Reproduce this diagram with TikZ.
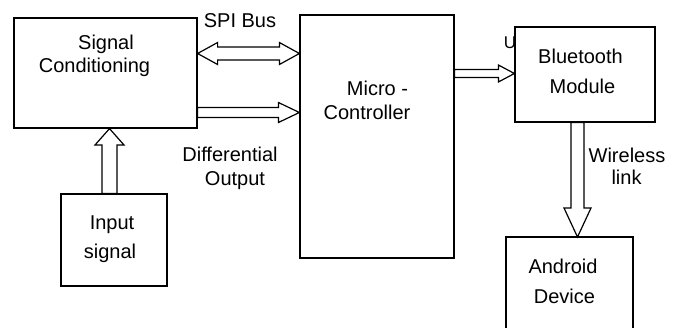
\documentclass[tikz,border=0pt]{standalone}
\usepackage{fontspec}
\setmainfont{Liberation Sans}
\usetikzlibrary{calc}
\begin{document}
\begin{tikzpicture}[x=1pt,y=-1pt,
  box/.style={draw=black,line width=1.2pt,fill=white,inner sep=0pt},
  blockarrow/.style={draw=black,line width=1.2pt,fill=white,line join=miter},
  txt/.style={font=\fontsize{20}{24}\selectfont,anchor=base,inner sep=0pt}]
\useasboundingbox (0,0) rectangle (683,327);
% boxes
\node[box,minimum width=183pt,minimum height=110pt] (sc) at (105.5,73) {};
\node[box,minimum width=154pt,minimum height=243pt] (mc) at (377,136.5) {};
\node[box,minimum width=140pt,minimum height=95pt] (bt) at (585,74.5) {};
\node[box,minimum width=106pt,minimum height=92pt] (in) at (114,240) {};
\coordinate (adtl) at (506,237);
\coordinate (adtr) at (633,237);
\coordinate (adbl) at (506,328);
\coordinate (adbr) at (633,328);
\draw[line width=1.2pt] (adbl) -- (adtl) -- (adtr) -- (adbr);
% SPI double arrow
\draw[blockarrow] (sc.east |- 0,53.5) -- ($(sc.east |- 0,42.5)+(20,0)$) -- ++(0,4.5)
  -- ($(mc.west |- 0,47)+(-20,0)$) -- ++(0,-4.5) -- (mc.west |- 0,53.5)
  -- ($(mc.west |- 0,64.5)+(-20,0)$) -- ++(0,-4.5)
  -- ($(sc.east |- 0,60)+(20,0)$) -- ++(0,4.5) -- cycle;
% Differential output arrow
\draw[blockarrow] (sc.east |- 0,107.5) -- ($(mc.west |- 0,107.5)+(-21,0)$) -- ++(0,-5) -- (mc.west |- 0,112.5) -- ($(mc.west |- 0,122.5)+(-21,0)$) -- ++(0,-5) -- (sc.east |- 0,117.5) -- cycle;
% Input arrow up
\draw[blockarrow] (in.north -| 102,0) -- (102,145) -- (95,145) -- (sc.south -| 109.5,0) -- (124,145) -- (117,145) -- (in.north -| 117,0) -- cycle;
% MCU to Bluetooth
\draw[blockarrow] (mc.east |- 0,69.5) -- ($(bt.west |- 0,69.5)+(-16,0)$) -- ++(0,-4.5) -- (bt.west |- 0,73.5) -- ($(bt.west |- 0,82)+(-16,0)$) -- ++(0,-4.5) -- (mc.east |- 0,77.5) -- cycle;
% Bluetooth to Android
\draw[blockarrow] (bt.south -| 571,0) -- (571,208) -- (564,208) -- (adtl -| 577.5,0) -- (591,208) -- (584,208) -- (bt.south -| 584,0) -- cycle;
% texts
\node[txt] (t1) at (106,49) {Signal};
\node[txt] (t2) at (94.5,72) {Conditioning};
\node[txt] (t3) at (377.5,95) {Micro -};
\node[txt] (t4) at (367,119) {Controller};
\node[txt] (t5) at (580.5,63) {Bluetooth};
\node[txt] (t6) at (582.5,93) {Module};
\node[txt] (t7) at (112,229) {Input};
\node[txt] (t8) at (110,258) {signal};
\node[txt] (t9) at (563,273) {Android};
\node[txt] (t10) at (564.5,303) {Device};
\node[txt] (t11) at (240,27) {SPI Bus};
\node[txt] (t12) at (230,161) {Differential};
\node[txt] (t13) at (235,185) {Output};
\node[txt] (t14) at (627,162) {Wireless};
\node[txt] (t15) at (626.5,184) {link};
\node[txt,font=\fontsize{17}{19}\selectfont] (t16) at (510,48) {U};
\end{tikzpicture}
\end{document}
